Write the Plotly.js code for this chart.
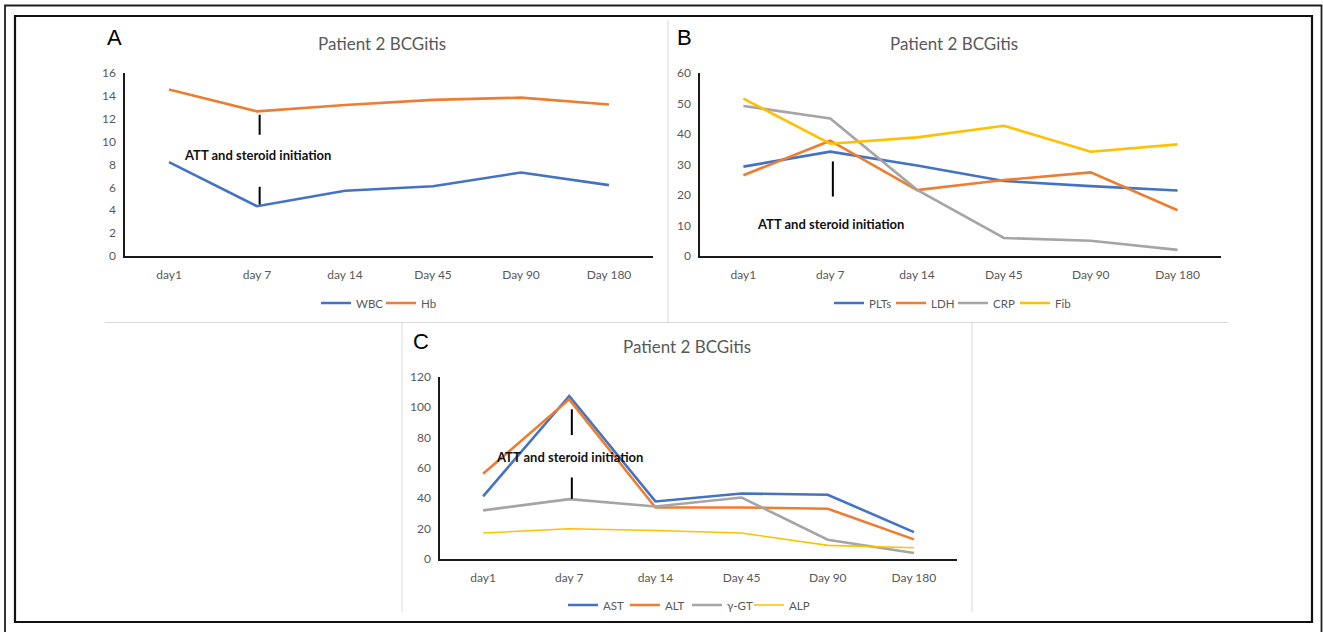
<!DOCTYPE html>
<html>
<head>
<meta charset="utf-8">
<script src="https://cdn.plot.ly/plotly-3.0.1.min.js"></script>
<style>html,body{margin:0;padding:0;background:#fff;}#chart{width:1323px;height:632px;}</style>
</head>
<body>
<div id="chart"></div>
<script>
// ---- data ----
var days = ['day1', 'day 7', 'day 14', 'Day 45', 'Day 90', 'Day 180'];
var yTicksA = [0, 2, 4, 6, 8, 10, 12, 14, 16];
var yTicksB = [0, 10, 20, 30, 40, 50, 60];
var yTicksC = [0, 20, 40, 60, 80, 100, 120];

var wbc = [8.2, 4.35, 5.7, 6.1, 7.3, 6.2];
var hb  = [14.55, 12.65, 13.2, 13.65, 13.85, 13.25];

var plts = [29.3, 34.2, 29.7, 24.6, 22.9, 21.5];
var ldh  = [26.5, 37.8, 21.6, 24.9, 27.4, 15.0];
var crp  = [49.2, 45.1, 21.7, 5.9, 5.0, 2.0];
var fib  = [51.6, 36.8, 38.9, 42.7, 34.2, 36.6];

var ast = [41.2, 107.3, 37.9, 43.1, 42.3, 17.7];
var alt = [56.1, 105.1, 33.9, 33.9, 33.1, 12.9];
var ggt = [32.0, 39.4, 34.6, 40.5, 12.7, 3.9];
var alp = [17.1, 19.9, 18.8, 17.1, 9.0, 7.4];

var chartTitle = 'Patient 2 BCGitis';
var noteText = 'ATT and steroid initiation';
var panelLetters = ['A', 'B', 'C'];
// event marker (category, value ranges of the vertical bars, label value)
var eventDay = 'day 7';
var markersA = [[10.6, 12.35], [4.5, 6.05]];
var markersB = [[19.5, 31.0]];
var markersC = [[81.7, 98.5], [39.6, 53.6]];
var noteYA = 8.8, noteYB = 10.5, noteYC = 67;

// ---- style ----
var BLUE = '#4472C4', ORANGE = '#ED7D31', GRAY = '#A5A5A5', YELLOW = '#FFC000';
var TXT = '#595959';
var FONT = 'Lato, "Open Sans", sans-serif';
var W = 1323, H = 632;
function px(x) { return x / W; }
function py(y) { return 1 - y / H; }

function tr(y, name, color, xa, ya, leg, width) {
  return {x: days, y: y, name: name, type: 'scatter', mode: 'lines',
    line: {color: color, width: width || 2.6}, xaxis: xa, yaxis: ya, legend: leg,
    hoverinfo: 'skip'};
}

var data = [
  tr(wbc, 'WBC', BLUE, 'x', 'y', 'legend'),
  tr(hb, 'Hb', ORANGE, 'x', 'y', 'legend'),
  tr(plts, 'PLTs', BLUE, 'x2', 'y2', 'legend2'),
  tr(ldh, 'LDH', ORANGE, 'x2', 'y2', 'legend2'),
  tr(crp, 'CRP', GRAY, 'x2', 'y2', 'legend2'),
  tr(fib, 'Fib', YELLOW, 'x2', 'y2', 'legend2'),
  tr(ast, 'AST', BLUE, 'x3', 'y3', 'legend3'),
  tr(alt, 'ALT', ORANGE, 'x3', 'y3', 'legend3'),
  tr(ggt, 'γ-GT', GRAY, 'x3', 'y3', 'legend3'),
  tr(alp, 'ALP', YELLOW, 'x3', 'y3', 'legend3', 1.6)
];

function xax(domain, anchor) {
  return {domain: domain, anchor: anchor, type: 'category', range: [-0.5, 5.5],
    showline: true, linecolor: '#1a1a1a', linewidth: 1.6, showgrid: false, zeroline: false,
    ticks: '', ticklabelstandoff: 7, tickfont: {family: FONT, size: 12, color: TXT}, fixedrange: true};
}
function yax(domain, anchor, ticks) {
  return {domain: domain, anchor: anchor, range: [ticks[0], ticks[ticks.length - 1]],
    tickvals: ticks, showline: true, linecolor: '#1a1a1a', linewidth: 1.6, showgrid: false,
    zeroline: false, ticks: '', ticklabelstandoff: 5, tickfont: {family: FONT, size: 12, color: TXT}, fixedrange: true};
}

function legendAt(cx, cy, ew) {
  return {orientation: 'h', x: px(cx), y: py(cy), xanchor: 'center', yanchor: 'middle',
    font: {family: FONT, size: 11.5, color: TXT}, bgcolor: 'rgba(0,0,0,0)', itemwidth: 30,
    entrywidth: ew, entrywidthmode: 'pixels',
    tracegroupgap: 0, itemclick: false, itemdoubleclick: false};
}

var shapes = [];
function pline(x0, y0, x1, y1, color, w) {
  shapes.push({type: 'line', xref: 'paper', yref: 'paper', x0: px(x0), y0: py(y0), x1: px(x1), y1: py(y1),
    line: {color: color, width: w}});
}
// frames
shapes.push({type: 'rect', xref: 'paper', yref: 'paper', x0: px(5), y0: py(640), x1: px(1321.5), y1: py(5.5),
  line: {color: '#1f1f1f', width: 1.8}});
shapes.push({type: 'rect', xref: 'paper', yref: 'paper', x0: px(15), y0: py(622), x1: px(1312), y1: py(16),
  line: {color: '#111', width: 2.2}});
// panel separators
pline(668, 20, 668, 322, '#d9d9d9', 1);
pline(105, 322.5, 1228, 322.5, '#d9d9d9', 1);
pline(402, 322.5, 402, 612, '#d9d9d9', 1);
pline(972, 322.5, 972, 612, '#d9d9d9', 1);

function markers(list, xa, ya) {
  list.forEach(function (m) {
    shapes.push({type: 'line', xref: xa, yref: ya, x0: days.indexOf(eventDay) + 0.03, x1: days.indexOf(eventDay) + 0.03,
      y0: m[0], y1: m[1], line: {color: '#000', width: 2}});
  });
}
markers(markersA, 'x', 'y');
markers(markersB, 'x2', 'y2');
markers(markersC, 'x3', 'y3');

var annotations = [];
function ptext(text, x, y, size, color, family) {
  annotations.push({text: text, xref: 'paper', yref: 'paper', x: px(x), y: py(y), xanchor: 'center', yanchor: 'middle',
    showarrow: false, font: {family: family || FONT, size: size, color: color}});
}
ptext(chartTitle, 382, 43, 17, TXT);
ptext(chartTitle, 954, 43, 17, TXT);
ptext(chartTitle, 687, 346, 17, TXT);
ptext(panelLetters[0], 114, 38, 22, '#000', '"Liberation Sans", Arial, sans-serif');
ptext(panelLetters[1], 684, 38, 22, '#000', '"Liberation Sans", Arial, sans-serif');
ptext(panelLetters[2], 421, 341, 22, '#000', '"Liberation Sans", Arial, sans-serif');
function note(xa, ya, yv) {
  annotations.push({text: '<b>' + noteText + '</b>', xref: xa, yref: ya, x: eventDay, y: yv,
    xanchor: 'center', yanchor: 'middle', showarrow: false, font: {family: FONT, size: 13, color: '#111'}});
}
note('x', 'y', noteYA);
note('x2', 'y2', noteYB);
note('x3', 'y3', noteYC);

var layout = {
  width: W, height: H, margin: {l: 0, r: 0, t: 0, b: 0},
  paper_bgcolor: '#fff', plot_bgcolor: 'rgba(0,0,0,0)', showlegend: true,
  xaxis: xax([px(125), px(653)], 'y'),
  yaxis: yax([py(256), py(73)], 'x', yTicksA),
  xaxis2: xax([px(700), px(1221)], 'y2'),
  yaxis2: yax([py(256), py(73)], 'x2', yTicksB),
  xaxis3: xax([px(440), px(957)], 'y3'),
  yaxis3: yax([py(559), py(376.7)], 'x3', yTicksC),
  legend: legendAt(381, 303, 20),
  legend2: legendAt(953, 303, 17),
  legend3: legendAt(687, 605, 17),
  shapes: shapes,
  annotations: annotations
};

Plotly.newPlot('chart', data, layout, {displayModeBar: false, staticPlot: true});
</script>
</body>
</html>
